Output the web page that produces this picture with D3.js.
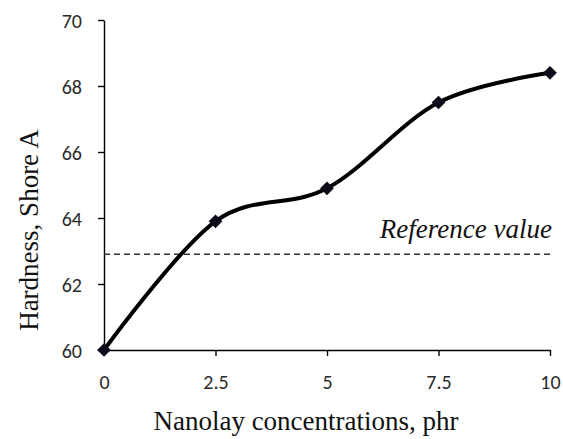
<!DOCTYPE html>
<meta charset="utf-8">
<body style="margin:0;background:#fff;">
<svg width="563" height="439"></svg>
<script src="https://cdn.jsdelivr.net/npm/d3@7"></script>
<script>
    // data
    let conc = [0, 2.5, 5, 7.5, 10];
    let hardness = [60, 63.9, 64.9, 67.5, 68.4];
    let xTicks = [0, 2.5, 5, 7.5, 10];
    let yTicks = [60, 62, 64, 66, 68, 70];
    let refValue = 62.9;

    let svg = d3.select("svg");
    let x = d3.scaleLinear().domain([0, 10]).range([104, 550]);
    let y = d3.scaleLinear().domain([60, 70]).range([350, 20]);

    let tickFont = "Carlito, 'Liberation Sans', Arial, sans-serif";
    let serif = "'Liberation Serif', 'Times New Roman', serif";

    // axes
    let xAxis = svg.append("g").attr("transform", `translate(0,${y(60)})`)
        .call(d3.axisBottom(x).tickValues(xTicks).tickSize(6).tickSizeOuter(0).tickFormat(d3.format("")));
    let yAxis = svg.append("g").attr("transform", `translate(${x(0)},0)`)
        .call(d3.axisLeft(y).tickValues(yTicks).tickSize(6).tickSizeOuter(0));
    [xAxis, yAxis].forEach(g => {
        g.attr("font-size", null).attr("font-family", null);
        g.select(".domain").attr("stroke", "#000").attr("stroke-width", 1.4);
        g.selectAll(".tick line").attr("stroke", "#000").attr("stroke-width", 1.4);
        g.selectAll("text").style("font-family", tickFont).style("font-size", "20px").attr("fill", "#2a2a2a");
    });
    xAxis.selectAll("text").attr("y", 32).attr("dy", "0.35em");
    yAxis.selectAll("text").attr("x", -22).attr("dy", "0.35em");

    // reference line
    svg.append("line")
        .attr("x1", x(0)).attr("x2", x(10))
        .attr("y1", y(refValue)).attr("y2", y(refValue))
        .attr("stroke", "#333").attr("stroke-width", 1.4)
        .attr("stroke-dasharray", "6,4");
    svg.append("text")
        .attr("x", 552).attr("y", y(refValue) - 16)
        .attr("text-anchor", "end")
        .attr("font-family", serif).attr("font-style", "italic")
        .attr("font-size", 27).attr("fill", "#111")
        .text("Reference value");

    // smoothed series
    let pts = conc.map((c, i) => [c, hardness[i]]);
    let line = d3.line().x(d => x(d[0])).y(d => y(d[1])).curve(d3.curveCatmullRom.alpha(0));
    svg.append("path").datum(pts)
        .attr("d", line)
        .attr("fill", "none").attr("stroke", "#000").attr("stroke-width", 4);

    svg.selectAll(".pt").data(pts).enter().append("path")
        .attr("class", "pt")
        .attr("transform", d => `translate(${x(d[0])},${y(d[1])})`)
        .attr("d", d3.symbol(d3.symbolDiamond2, 120)())
        .attr("fill", "#0b0b1a");

    // axis titles
    svg.append("text")
        .attr("x", 306).attr("y", 430)
        .attr("text-anchor", "middle")
        .attr("font-family", serif).attr("font-size", 27).attr("fill", "#111")
        .text("Nanolay concentrations, phr");
    svg.append("text")
        .attr("transform", "translate(38,230) rotate(-90)")
        .attr("text-anchor", "middle")
        .attr("font-family", serif).attr("font-size", 27).attr("fill", "#111")
        .text("Hardness, Shore A");
</script>
</body>
